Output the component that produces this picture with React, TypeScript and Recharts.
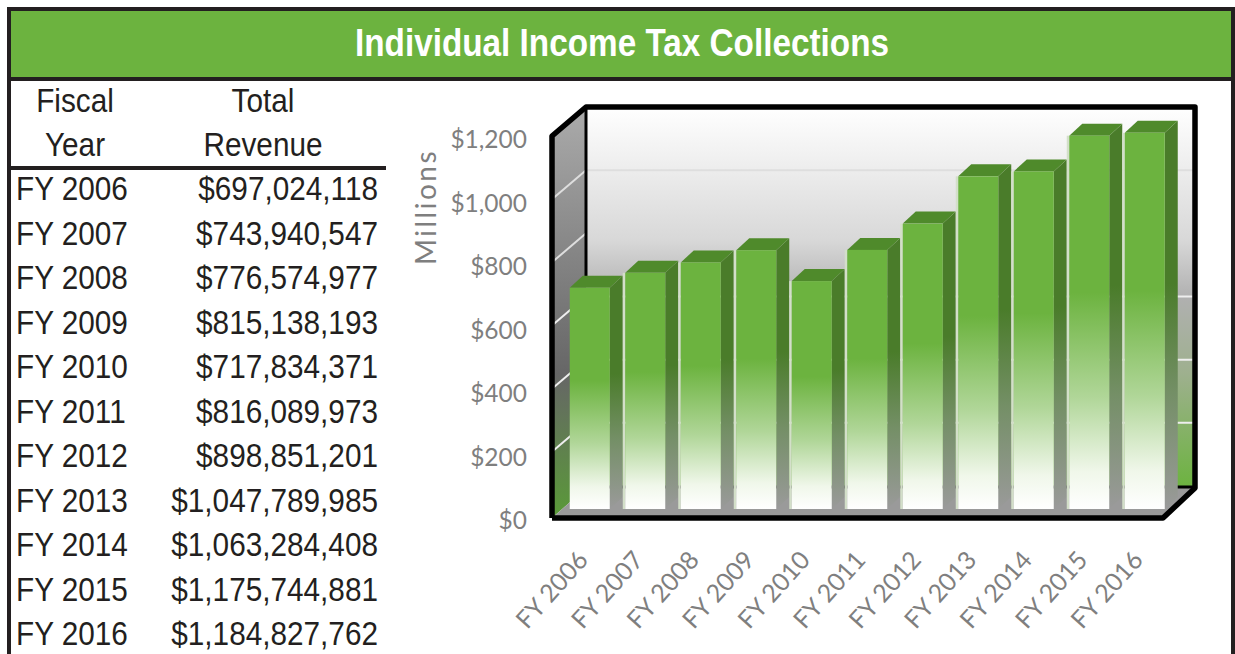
import { Bar, BarChart, XAxis, YAxis } from "recharts";

const fiscalYears = [
  "FY 2006", "FY 2007", "FY 2008", "FY 2009", "FY 2010", "FY 2011",
  "FY 2012", "FY 2013", "FY 2014", "FY 2015", "FY 2016",
];
const totalRevenue = [
  697024118, 743940547, 776574977, 815138193, 717834371, 816089973,
  898851201, 1047789985, 1063284408, 1175744881, 1184827762,
];
const yTicks = [0, 200, 400, 600, 800, 1000, 1200];

const chartData = fiscalYears.map((year, i) => ({
  year,
  millions: totalRevenue[i] / 1000000,
}));

const GREEN = "#6cb33f";
const AXIS_GREY = "#7f7f7f";
const TABLE_TEXT = "#231f20";
const TABLE_FONT = '"Liberation Sans", Arial, sans-serif';
const AXIS_FONT = 'Lato, "Open Sans", sans-serif';

// back wall: where 0 and 1200 sit
const wallY = (v: number) => 486 - v * (379 / 1200);

const Bar3D = (props: any) => {
  const { x, y, width, height, index } = props;
  const dx = 13;
  const dy = 12;
  const r = x + width;
  const b = y + height;
  return (
    <g>
      {index > 0 && (
        <rect x={x - 2.5} y={y} width={2.5} height={height} fill="#d3dfc9" />
      )}
      <polygon
        points={`${r},${y} ${r + dx},${y - dy} ${r + dx},${b - dy} ${r},${b}`}
        fill="url(#barSide)"
      />
      <polygon
        points={`${x},${y} ${x + dx},${y - dy} ${r + dx},${y - dy} ${r},${y}`}
        fill="#4f8a2b"
      />
      <rect x={x} y={y} width={width} height={height} fill="url(#barFront)" />
    </g>
  );
};

const XTick = (props: any) => {
  const { x, payload } = props;
  const y = 561;
  return (
    <text
      x={x}
      y={y}
      transform={`rotate(-48 ${x} ${y})`}
      textAnchor="end"
      fontFamily={AXIS_FONT}
      fontSize={25}
      fill={AXIS_GREY}
    >
      {payload.value}
    </text>
  );
};

const YTick = (props: any) => {
  const { y, payload } = props;
  return (
    <text
      x={527}
      y={y + 20}
      textAnchor="end"
      fontFamily={AXIS_FONT}
      fontSize={24.5}
      fill={AXIS_GREY}
    >
      {`$${payload.value.toLocaleString("en-US")}`}
    </text>
  );
};

const TableText = ({ x, y, anchor, children }: any) => (
  <text
    transform={`translate(${x} ${y}) scale(0.875 1)`}
    textAnchor={anchor}
    fontFamily={TABLE_FONT}
    fontSize={34}
    fill={TABLE_TEXT}
  >
    {children}
  </text>
);

const Backdrop = () => (
  <svg width={1235} height={654} style={{ position: "absolute", left: 0, top: 0 }}>
    <defs>
      <linearGradient id="barFront" x1="0" y1="0" x2="0" y2="1">
        <stop offset="0" stopColor={GREEN} />
        <stop offset="0.42" stopColor={GREEN} />
        <stop offset="0.7" stopColor="#b0d698" />
        <stop offset="0.9" stopColor="#f0f7ea" />
        <stop offset="1" stopColor="#ffffff" />
      </linearGradient>
      <linearGradient id="barSide" x1="0" y1="0" x2="0" y2="1">
        <stop offset="0" stopColor="#4a7c2a" />
        <stop offset="0.42" stopColor="#4a7c2a" />
        <stop offset="0.7" stopColor="#748f66" />
        <stop offset="1" stopColor="#9a9a9a" />
      </linearGradient>
      <linearGradient id="backWall" x1="0" y1="0" x2="0" y2="1">
        <stop offset="0" stopColor="#ffffff" />
        <stop offset="0.35" stopColor="#d8d8d8" />
        <stop offset="0.5" stopColor="#b0b0b0" />
        <stop offset="0.7" stopColor="#9eb08e" />
        <stop offset="1" stopColor={GREEN} />
      </linearGradient>
      <linearGradient id="leftWall" x1="0" y1="0" x2="0" y2="1">
        <stop offset="0" stopColor="#ababab" />
        <stop offset="0.65" stopColor="#666666" />
        <stop offset="1" stopColor="#5a9a38" />
      </linearGradient>
    </defs>

    {/* title banner and outer frame */}
    <rect x={11} y={11} width={1221} height={66} fill={GREEN} />
    <line x1={7} y1={9} x2={1236} y2={9} stroke="#231f20" strokeWidth={4} />
    <line x1={9} y1={7} x2={9} y2={654} stroke="#231f20" strokeWidth={4} />
    <line x1={1233} y1={7} x2={1233} y2={654} stroke="#231f20" strokeWidth={4} />
    <line x1={7} y1={79} x2={1236} y2={79} stroke="#231f20" strokeWidth={4} />
    <text
      x={622}
      y={56}
      textAnchor="middle"
      fontFamily={TABLE_FONT}
      fontWeight="bold"
      fontSize={38}
      fill="#ffffff"
      textLength={534}
      lengthAdjust="spacingAndGlyphs"
    >
      Individual Income Tax Collections
    </text>

    {/* table */}
    <TableText x={75} y={112} anchor="middle">Fiscal</TableText>
    <TableText x={75} y={156} anchor="middle">Year</TableText>
    <TableText x={263} y={112} anchor="middle">Total</TableText>
    <TableText x={263} y={156} anchor="middle">Revenue</TableText>
    <line x1={11} y1={168} x2={386} y2={168} stroke="#231f20" strokeWidth={4} />
    {fiscalYears.map((year, i) => (
      <g key={year}>
        <TableText x={16} y={200 + i * 44.5} anchor="start">{year}</TableText>
        <TableText x={378} y={200 + i * 44.5} anchor="end">
          {`$${totalRevenue[i].toLocaleString("en-US")}`}
        </TableText>
      </g>
    ))}

    {/* 3d chart box */}
    <rect x={586} y={107} width={609} height={381} fill="url(#backWall)" />
    <polygon points="552,136 586,107 586,488 552,518" fill="url(#leftWall)" />
    <polygon points="552,518 586,488 1195,488 1163,518" fill="#9a9a9a" />
    {yTicks.slice(1, -1).map((v) => (
      <g key={v} stroke={v >= 800 ? "#dedede" : "#eeeeee"} strokeWidth={2} fill="none">
        {v !== 800 && <line x1={586} y1={wallY(v)} x2={1195} y2={wallY(v)} />}
        <polyline points={`552,${wallY(v) + 29} 586,${wallY(v)}`} />
      </g>
    ))}
    <line x1={586} y1={487} x2={1195} y2={487} stroke="#000" strokeWidth={3} />
    <g fill="none" stroke="#000" strokeLinejoin="round">
      <polyline points="552,518 552,136 586,107 1195,107 1195,488 1163,518 552,518" strokeWidth={5.5} />
      <line x1={586} y1={107} x2={586} y2={280} strokeWidth={3} />
    </g>

    <text
      transform="translate(436 265) rotate(-90)"
      fontFamily={AXIS_FONT}
      fontSize={28}
      letterSpacing={2.5}
      fill={AXIS_GREY}
    >
      Millions
    </text>
  </svg>
);

export default function App() {
  return (
    <div style={{ position: "absolute", left: 0, top: 0, width: 1235, height: 654, overflow: "hidden", background: "#fff" }}>
      <Backdrop />
      <div style={{ position: "absolute", left: 0, top: 0 }}>
        <BarChart
          width={1235}
          height={654}
          data={chartData}
          margin={{ top: 128, right: 62.75, bottom: 85, left: 501.75 }}
        >
          <XAxis
            dataKey="year"
            height={60}
            interval={0}
            axisLine={false}
            tickLine={false}
            tick={<XTick />}
          />
          <YAxis
            width={60}
            domain={[0, 1200]}
            ticks={yTicks}
            axisLine={false}
            tickLine={false}
            tick={<YTick />}
          />
          <Bar
            dataKey="millions"
            barSize={40}
            isAnimationActive={false}
            shape={<Bar3D />}
          />
        </BarChart>
      </div>
    </div>
  );
}
